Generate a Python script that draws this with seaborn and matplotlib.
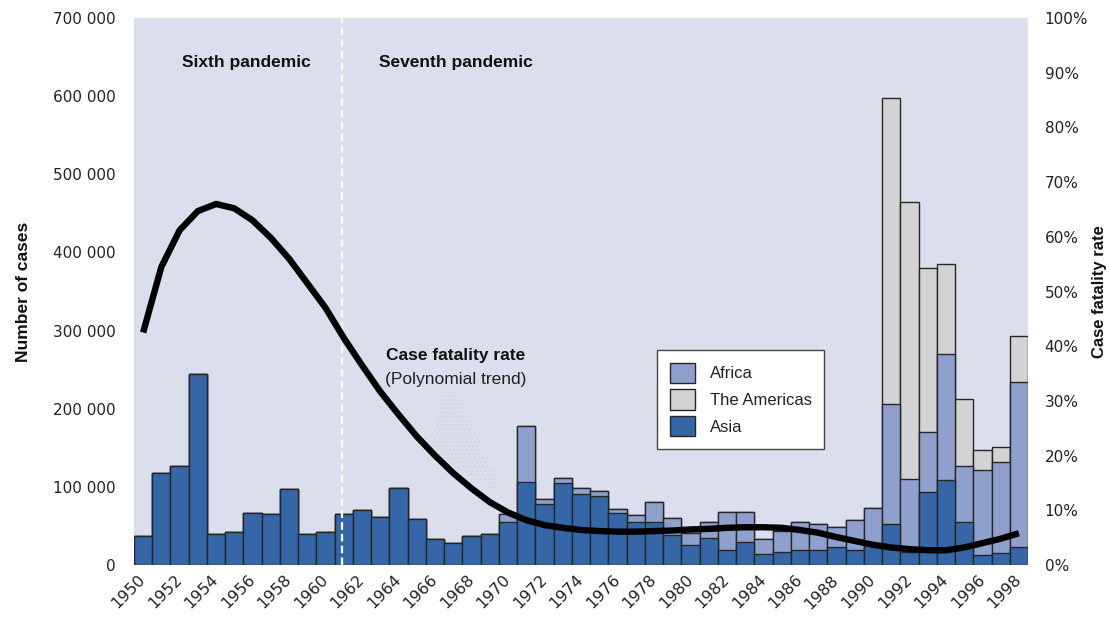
import numpy as np
import pandas as pd
import matplotlib
matplotlib.use("Agg")
import matplotlib.pyplot as plt
from matplotlib.patches import Patch, Polygon
import seaborn as sns

# ---------------- data ----------------
years = list(range(1950, 1999))
asia = [37000, 118000, 127000, 244000, 40000, 42000, 66000, 65000, 97000, 39500,
        42000, 65000, 70000, 61500, 98000, 59000, 33000, 28000, 37000, 39500,
        55000, 106000, 78000, 104500, 91000, 88000, 67000, 55000, 55000, 38000,
        26000, 35000, 19000, 30000, 14000, 16000, 19000, 19000, 23000, 19000,
        25000, 52500, 17000, 93000, 109000, 55000, 13000, 15000, 23000]
africa = [0] * 20 + [10000, 72000, 6000, 7000, 7000, 7000, 5000, 9000, 25000, 22000,
                     14500, 20000, 48500, 38000, 19000, 28000, 35500, 34000, 25000, 38500,
                     48000, 153500, 93000, 77000, 161000, 72000, 108500, 117000, 211000]
americas = [0] * 41 + [392000, 354500, 210000, 115000, 85000, 25500, 19000, 59000]
cfr = [42.5, 54.5, 61.2, 64.7, 66, 65.2, 63, 59.8, 56, 51.5,
       47, 41.5, 36.5, 31.7, 27.5, 23.5, 20, 16.8, 14, 11.5,
       9.6, 8.2, 7.3, 6.8, 6.4, 6.2, 6.1, 6.1, 6.2, 6.3,
       6.5, 6.6, 6.8, 6.9, 6.9, 6.8, 6.4, 5.9, 5.1, 4.4,
       3.7, 3.2, 2.9, 2.7, 2.7, 3.2, 4.0, 4.8, 5.8]
left_ticks = [0, 100000, 200000, 300000, 400000, 500000, 600000, 700000]
right_ticks = [0, 10, 20, 30, 40, 50, 60, 70, 80, 90, 100]
series_names = ["Africa", "The Americas", "Asia"]

# ---------------- style ----------------
sns.set_style("white")
plt.rcParams["font.family"] = ["DejaVu Sans"]
plt.rcParams["hatch.linewidth"] = 0.5

C_ASIA = "#3466A8"
C_AFR = "#8FA0CC"
C_AME = "#D3D3D3"
C_BG = "#DADEED"
C_EDGE = "#262626"
C_TXT = "#222222"

df = pd.DataFrame({
    "year": [str(y) for y in years],
    "asia": asia,
    "africa": africa,
    "americas": americas,
})
df["lvl_asia"] = df["asia"]
df["lvl_afr"] = df["asia"] + df["africa"]
df["lvl_all"] = df["lvl_afr"] + df["americas"]

fig = plt.figure(figsize=(11.1, 6.19), dpi=100)
ax = fig.add_axes([134 / 1110, 54 / 619, 894 / 1110, 547 / 619])
ax.set_facecolor(C_BG)

for col, c in [("lvl_all", C_AME), ("lvl_afr", C_AFR), ("lvl_asia", C_ASIA)]:
    sns.barplot(data=df, x="year", y=col, color=c, saturation=1, width=1.0,
                edgecolor=C_EDGE, linewidth=1.0, ax=ax)

ax.set_xlim(-0.5, len(years) - 0.5)
ax.set_ylim(0, 700000)
for s in ax.spines.values():
    s.set_visible(False)

# x ticks
major = list(range(0, len(years), 2))
ax.set_xticks(major)
ax.set_xticklabels([str(years[i]) for i in major], rotation=45, ha="right",
                   va="center", rotation_mode="anchor", fontsize=11.5, color=C_TXT)
ax.set_xticks(np.arange(-0.5, len(years), 1), minor=True)
ax.tick_params(axis="x", which="major", length=0, pad=9)
ax.tick_params(axis="x", which="minor", length=5, width=1, color=C_EDGE, direction="out")
ax.set_xlabel("")

# left y
ax.set_yticks(left_ticks)
ax.set_yticklabels([f"{v:,}".replace(",", " ") for v in left_ticks], fontsize=11, color=C_TXT)
ax.tick_params(axis="y", length=0, pad=13)
bold_font = ["Liberation Sans", "DejaVu Sans"]
ax.set_ylabel("Number of cases", fontsize=12.5, fontweight="bold",
              family=bold_font, color="#111111", labelpad=16)

# dashed separator between pandemics
ax.axvline(10.9, color="white", lw=1.6, ls=(0, (3.4, 1.9)), zorder=1.5)

# faint dotted leader
poly = Polygon([(16.4, 222000), (17.3, 222000), (20.1, 78000), (15.8, 150000)],
               closed=True, facecolor="none", edgecolor="#CDD0E2", hatch="....",
               lw=0, zorder=1.2)
ax.add_patch(poly)

# annotations
ax.text(5.64, 643000, "Sixth pandemic", ha="center", va="center", fontsize=12.5,
        fontweight="bold", family=bold_font, color="#111111")
ax.text(17.15, 643000, "Seventh pandemic", ha="center", va="center", fontsize=12.5,
        fontweight="bold", family=bold_font, color="#111111")
ax.text(17.15, 267500, "Case fatality rate", ha="center", va="center", fontsize=12.5,
        fontweight="bold", family=bold_font, color="#111111")
ax.text(17.15, 238000, "(Polynomial trend)", ha="center", va="center", fontsize=12.5,
        family=bold_font, color="#222222")

# right axis: case fatality rate
ax2 = ax.twinx()
ax2.set_facecolor("none")
sns.lineplot(x=np.arange(len(years)), y=cfr, ax=ax2, color="black", linewidth=4.6,
             solid_capstyle="butt", solid_joinstyle="round")
ax2.set_ylim(0, 100)
ax2.set_xlim(-0.5, len(years) - 0.5)
ax2.set_yticks(right_ticks)
ax2.set_yticklabels([f"{v}%" for v in right_ticks], fontsize=11, color=C_TXT)
ax2.tick_params(axis="y", length=0, pad=12)
ax2.set_ylabel("Case fatality rate", fontsize=12, fontweight="bold",
               family=bold_font, color="#111111", labelpad=3)
for s in ax2.spines.values():
    s.set_visible(False)

handles = [Patch(facecolor=C_AFR, edgecolor=C_EDGE, linewidth=1.0),
           Patch(facecolor=C_AME, edgecolor=C_EDGE, linewidth=1.0),
           Patch(facecolor=C_ASIA, edgecolor=C_EDGE, linewidth=1.0)]
leg = ax2.legend(handles, series_names, loc="upper left",
                 bbox_to_anchor=((657 - 134) / 894, (565 - 350) / 547),
                 frameon=True, fancybox=False,
                 prop={"family": bold_font, "size": 12},
                 handlelength=1.5, handleheight=1.5, labelspacing=0.38,
                 handletextpad=0.9, borderpad=0.75, borderaxespad=0)
leg.get_frame().set_edgecolor("#444444")
leg.get_frame().set_linewidth(1.0)
leg.get_frame().set_facecolor("white")
leg.get_frame().set_alpha(1)
for t in leg.get_texts():
    t.set_color("#222222")

fig.savefig("out.png", dpi=100, facecolor="white")
